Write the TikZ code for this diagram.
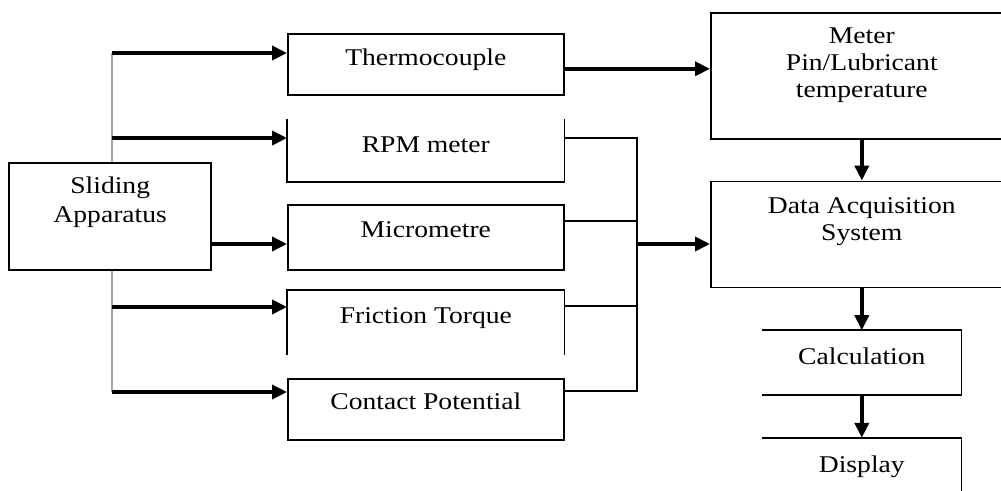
\documentclass[tikz,border=0pt]{standalone}
\usepackage{fontspec}
\setmainfont{Liberation Serif}[FakeStretch=1.15]
\usepackage{tikz}
\usetikzlibrary{arrows.meta, positioning}

\begin{document}
\begin{tikzpicture}[
    x=1pt, y=1pt,
    font=\fontsize{24}{27}\selectfont,
    box/.style={draw, line width=1.6pt, fill=white, inner sep=0pt, align=center},
    openbox/.style={box, draw=none},
    rim/.style={line width=1.6pt},
    feed/.style={-{Triangle[length=15pt, width=14pt]}, line width=3.6pt},
    wire/.style={line width=1.8pt},
    trunk/.style={line width=1.5pt, draw=black!35}
  ]
    \useasboundingbox (0,0) rectangle (1001,-490);
    \clip (0,0) rectangle (1001,-490);

    % measuring chain
    \node[box, minimum width=276pt, text height=32pt, text depth=29pt, anchor=north west] (thermo) at (287,-33) {Thermocouple};
    \node[openbox, minimum width=276pt, text height=33pt, text depth=29pt, below=23pt of thermo] (rpm) {RPM meter};
    \node[box, minimum width=276pt, text height=32pt, text depth=33pt, below=22pt of rpm] (micro) {Micrometre};
    \node[openbox, minimum width=276pt, text height=33pt, text depth=31pt, below=19pt of micro] (fric) {Friction Torque};
    \node[box, minimum width=276pt, text height=30pt, text depth=31pt, below=23pt of fric] (contact) {Contact Potential};
    \node[box, minimum width=202pt, text height=59pt, text depth=48pt, font=\fontsize{24}{29}\selectfont,
          left=75pt of micro.south west, anchor=south east] (slide) {Sliding\\Apparatus};

    % processing chain
    \node[box, minimum width=302pt, text height=85pt, text depth=41pt, anchor=north west] (meter) at (710,-12) {Meter\\Pin/Lubricant\\temperature};
    \node[box, minimum width=302pt, text height=59pt, text depth=47pt, below=41pt of meter] (das) {Data Acquisition\\System};
    \node[openbox, minimum width=198pt, text height=33pt, text depth=30pt, below=42pt of das] (calc) {Calculation};
    \node[openbox, minimum width=198pt, text height=34pt, text depth=40pt, below=43pt of calc] (disp) {Display};

    % open box sides
    \draw[rim] (rpm.north west) -- (rpm.south west) -- (rpm.south east) -- (rpm.north east);
    \draw[rim] (fric.south west) -- (fric.north west) -- (fric.north east) -- (fric.south east);
    \draw[rim] (calc.north west) -- (calc.north east) -- (calc.south east) -- (calc.south west);
    \draw[rim] (disp.north west) -- (disp.north east) -- (disp.south east);

    % feed from the apparatus
    \coordinate (tapA) at (112,-53);
    \coordinate (tapB) at (112,-138);
    \coordinate (outC) at (112,-244);
    \coordinate (tapD) at (112,-307);
    \coordinate (tapE) at (112,-392);
    \draw[trunk] (tapA) -- (tapA |- slide.north);
    \draw[trunk] (tapA |- slide.south) -- (tapE);
    \draw[feed] (tapA) -- (tapA -| thermo.west);
    \draw[feed] (tapB) -- (tapB -| rpm.west);
    \draw[feed] (slide.east |- outC) -- (outC -| micro.west);
    \draw[feed] (tapD) -- (tapD -| fric.west);
    \draw[feed] (tapE) -- (tapE -| contact.west);

    % collecting bus
    \coordinate (busT) at (637,-138);
    \coordinate (busm) at (637,-221);
    \coordinate (busM) at (637,-244);
    \coordinate (busf) at (637,-306);
    \coordinate (busB) at (637,-391);
    \draw[wire] (rpm.east |- busT) -- (busT) -- (busB) -- (contact.east |- busB);
    \draw[wire] (micro.east |- busm) -- (busm);
    \draw[wire] (fric.east |- busf) -- (busf);
    \draw[feed] (busM) -- (busM -| das.west);

    \draw[feed] ([yshift=-4.5pt]thermo.east) -- ([yshift=-4.5pt]thermo.east -| meter.west);
    \draw[feed] (meter) -- (das);
    \draw[feed] (das) -- (calc);
    \draw[feed] (calc) -- (disp);
  \end{tikzpicture}
\end{document}
